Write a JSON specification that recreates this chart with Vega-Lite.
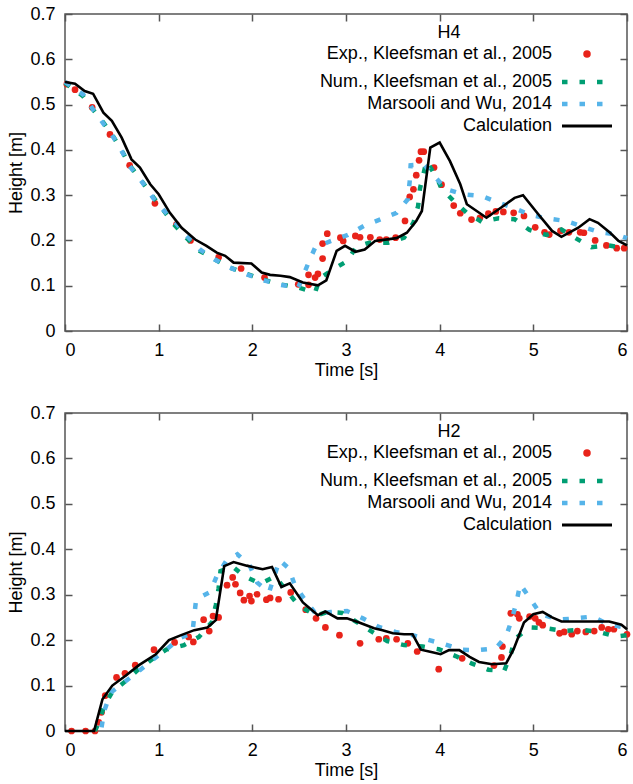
{
"$schema": "https://vega.github.io/schema/vega-lite/v6.json",
"padding": {"left": 7, "top": 4, "right": 5, "bottom": 0},
"config": {
  "font": "Liberation Sans",
  "view": {"stroke": "#555555", "strokeWidth": 1.5},
  "axis": {"labelFontSize": 18, "titleFontSize": 18, "titleFontWeight": "normal", "labelColor": "#000000", "titleColor": "#000000", "domain": false, "tickColor": "#555555", "tickWidth": 1.5, "tickSize": -7, "labelPadding": 17, "grid": false},
  "legend": {"labelFontSize": 18, "labelColor": "#000000"},
  "title": {"fontSize": 18, "fontWeight": "normal", "color": "#000000"}
},
"datasets": {
"h4": [
{"s":"calc","t":0,"h":0.550},{"s":"calc","t":0.107,"h":0.546},{"s":"calc","t":0.21,"h":0.530},{"s":"calc","t":0.30,"h":0.524},{"s":"calc","t":0.41,"h":0.482},{"s":"calc","t":0.50,"h":0.464},{"s":"calc","t":0.605,"h":0.427},{"s":"calc","t":0.71,"h":0.379},{"s":"calc","t":0.80,"h":0.361},{"s":"calc","t":0.91,"h":0.324},{"s":"calc","t":1.0,"h":0.302},{"s":"calc","t":1.12,"h":0.261},{"s":"calc","t":1.245,"h":0.228},{"s":"calc","t":1.39,"h":0.202},{"s":"calc","t":1.51,"h":0.188},{"s":"calc","t":1.62,"h":0.173},{"s":"calc","t":1.71,"h":0.166},{"s":"calc","t":1.80,"h":0.151},{"s":"calc","t":1.99,"h":0.149},{"s":"calc","t":2.10,"h":0.129},{"s":"calc","t":2.19,"h":0.124},{"s":"calc","t":2.30,"h":0.122},{"s":"calc","t":2.40,"h":0.119},{"s":"calc","t":2.54,"h":0.107},{"s":"calc","t":2.70,"h":0.101},{"s":"calc","t":2.79,"h":0.112},{"s":"calc","t":2.90,"h":0.177},{"s":"calc","t":2.99,"h":0.188},{"s":"calc","t":3.10,"h":0.175},{"s":"calc","t":3.20,"h":0.180},{"s":"calc","t":3.31,"h":0.199},{"s":"calc","t":3.54,"h":0.205},{"s":"calc","t":3.65,"h":0.217},{"s":"calc","t":3.75,"h":0.243},{"s":"calc","t":3.81,"h":0.265},{"s":"calc","t":3.90,"h":0.405},{"s":"calc","t":4.00,"h":0.416},{"s":"calc","t":4.11,"h":0.375},{"s":"calc","t":4.22,"h":0.324},{"s":"calc","t":4.29,"h":0.280},{"s":"calc","t":4.50,"h":0.250},{"s":"calc","t":4.68,"h":0.276},{"s":"calc","t":4.80,"h":0.294},{"s":"calc","t":4.89,"h":0.300},{"s":"calc","t":5.04,"h":0.261},{"s":"calc","t":5.20,"h":0.221},{"s":"calc","t":5.30,"h":0.208},{"s":"calc","t":5.48,"h":0.228},{"s":"calc","t":5.60,"h":0.247},{"s":"calc","t":5.69,"h":0.239},{"s":"calc","t":5.82,"h":0.217},{"s":"calc","t":5.91,"h":0.199},{"s":"calc","t":6.0,"h":0.189},
{"s":"exp","t":0.02,"h":0.545},{"s":"exp","t":0.107,"h":0.533},{"s":"exp","t":0.29,"h":0.494},{"s":"exp","t":0.48,"h":0.434},{"s":"exp","t":0.69,"h":0.366},{"s":"exp","t":0.96,"h":0.282},{"s":"exp","t":1.19,"h":0.235},{"s":"exp","t":1.34,"h":0.200},{"s":"exp","t":1.64,"h":0.163},{"s":"exp","t":1.88,"h":0.138},{"s":"exp","t":2.13,"h":0.118},{"s":"exp","t":2.49,"h":0.103},{"s":"exp","t":2.60,"h":0.102},{"s":"exp","t":2.60,"h":0.124},{"s":"exp","t":2.67,"h":0.118},{"s":"exp","t":2.70,"h":0.126},{"s":"exp","t":2.75,"h":0.160},{"s":"exp","t":2.75,"h":0.193},{"s":"exp","t":2.80,"h":0.215},{"s":"exp","t":2.94,"h":0.206},{"s":"exp","t":2.97,"h":0.199},{"s":"exp","t":3.10,"h":0.210},{"s":"exp","t":3.15,"h":0.207},{"s":"exp","t":3.26,"h":0.207},{"s":"exp","t":3.36,"h":0.202},{"s":"exp","t":3.43,"h":0.202},{"s":"exp","t":3.53,"h":0.206},{"s":"exp","t":3.63,"h":0.243},{"s":"exp","t":3.68,"h":0.296},{"s":"exp","t":3.72,"h":0.313},{"s":"exp","t":3.75,"h":0.344},{"s":"exp","t":3.78,"h":0.377},{"s":"exp","t":3.80,"h":0.396},{"s":"exp","t":3.83,"h":0.396},{"s":"exp","t":3.94,"h":0.361},{"s":"exp","t":4.02,"h":0.323},{"s":"exp","t":4.15,"h":0.277},{"s":"exp","t":4.22,"h":0.260},{"s":"exp","t":4.34,"h":0.246},{"s":"exp","t":4.43,"h":0.250},{"s":"exp","t":4.52,"h":0.259},{"s":"exp","t":4.60,"h":0.264},{"s":"exp","t":4.68,"h":0.263},{"s":"exp","t":4.79,"h":0.261},{"s":"exp","t":4.90,"h":0.254},{"s":"exp","t":5.02,"h":0.229},{"s":"exp","t":5.12,"h":0.218},{"s":"exp","t":5.17,"h":0.213},{"s":"exp","t":5.29,"h":0.221},{"s":"exp","t":5.38,"h":0.218},{"s":"exp","t":5.50,"h":0.218},{"s":"exp","t":5.54,"h":0.217},{"s":"exp","t":5.66,"h":0.200},{"s":"exp","t":5.78,"h":0.189},{"s":"exp","t":5.89,"h":0.183},{"s":"exp","t":5.97,"h":0.183},
{"s":"num","t":0,"h":0.548},{"s":"num","t":0.19,"h":0.519},{"s":"num","t":0.30,"h":0.489},{"s":"num","t":0.41,"h":0.460},{"s":"num","t":0.52,"h":0.428},{"s":"num","t":0.62,"h":0.393},{"s":"num","t":0.69,"h":0.366},{"s":"num","t":0.83,"h":0.328},{"s":"num","t":0.94,"h":0.296},{"s":"num","t":1.06,"h":0.264},{"s":"num","t":1.17,"h":0.234},{"s":"num","t":1.30,"h":0.205},{"s":"num","t":1.43,"h":0.178},{"s":"num","t":1.60,"h":0.158},{"s":"num","t":1.76,"h":0.140},{"s":"num","t":1.94,"h":0.126},{"s":"num","t":2.12,"h":0.113},{"s":"num","t":2.30,"h":0.103},{"s":"num","t":2.49,"h":0.096},{"s":"num","t":2.67,"h":0.085},{"s":"num","t":2.72,"h":0.116},{"s":"num","t":2.86,"h":0.136},{"s":"num","t":3.01,"h":0.154},{"s":"num","t":3.11,"h":0.186},{"s":"num","t":3.25,"h":0.195},{"s":"num","t":3.45,"h":0.195},{"s":"num","t":3.62,"h":0.206},{"s":"num","t":3.72,"h":0.239},{"s":"num","t":3.77,"h":0.276},{"s":"num","t":3.79,"h":0.315},{"s":"num","t":3.86,"h":0.375},{"s":"num","t":3.97,"h":0.338},{"s":"num","t":4.02,"h":0.315},{"s":"num","t":4.15,"h":0.287},{"s":"num","t":4.29,"h":0.261},{"s":"num","t":4.45,"h":0.241},{"s":"num","t":4.63,"h":0.249},{"s":"num","t":4.80,"h":0.247},{"s":"num","t":4.96,"h":0.223},{"s":"num","t":5.14,"h":0.212},{"s":"num","t":5.30,"h":0.224},{"s":"num","t":5.46,"h":0.204},{"s":"num","t":5.62,"h":0.185},{"s":"num","t":5.80,"h":0.189},{"s":"num","t":5.98,"h":0.183},
{"s":"mw","t":0,"h":0.550},{"s":"mw","t":0.195,"h":0.522},{"s":"mw","t":0.30,"h":0.489},{"s":"mw","t":0.41,"h":0.458},{"s":"mw","t":0.52,"h":0.427},{"s":"mw","t":0.62,"h":0.392},{"s":"mw","t":0.69,"h":0.364},{"s":"mw","t":0.83,"h":0.327},{"s":"mw","t":0.94,"h":0.294},{"s":"mw","t":1.06,"h":0.265},{"s":"mw","t":1.19,"h":0.237},{"s":"mw","t":1.30,"h":0.210},{"s":"mw","t":1.44,"h":0.180},{"s":"mw","t":1.60,"h":0.158},{"s":"mw","t":1.76,"h":0.140},{"s":"mw","t":1.94,"h":0.125},{"s":"mw","t":2.12,"h":0.112},{"s":"mw","t":2.30,"h":0.102},{"s":"mw","t":2.49,"h":0.096},{"s":"mw","t":2.60,"h":0.151},{"s":"mw","t":2.67,"h":0.184},{"s":"mw","t":2.84,"h":0.199},{"s":"mw","t":3.02,"h":0.212},{"s":"mw","t":3.19,"h":0.232},{"s":"mw","t":3.36,"h":0.246},{"s":"mw","t":3.54,"h":0.261},{"s":"mw","t":3.66,"h":0.291},{"s":"mw","t":3.68,"h":0.330},{"s":"mw","t":3.69,"h":0.366},{"s":"mw","t":3.83,"h":0.368},{"s":"mw","t":3.99,"h":0.331},{"s":"mw","t":4.07,"h":0.313},{"s":"mw","t":4.25,"h":0.302},{"s":"mw","t":4.45,"h":0.298},{"s":"mw","t":4.63,"h":0.283},{"s":"mw","t":4.80,"h":0.271},{"s":"mw","t":4.97,"h":0.256},{"s":"mw","t":5.16,"h":0.248},{"s":"mw","t":5.35,"h":0.243},{"s":"mw","t":5.53,"h":0.230},{"s":"mw","t":5.71,"h":0.218},{"s":"mw","t":5.89,"h":0.213},{"s":"mw","t":6.0,"h":0.205}
],
"h2": [
{"s":"calc","t":0,"h":0},{"s":"calc","t":0.31,"h":0},{"s":"calc","t":0.40,"h":0.070},{"s":"calc","t":0.505,"h":0.100},{"s":"calc","t":0.65,"h":0.122},{"s":"calc","t":0.79,"h":0.145},{"s":"calc","t":0.97,"h":0.169},{"s":"calc","t":1.11,"h":0.200},{"s":"calc","t":1.24,"h":0.211},{"s":"calc","t":1.38,"h":0.222},{"s":"calc","t":1.52,"h":0.228},{"s":"calc","t":1.61,"h":0.244},{"s":"calc","t":1.70,"h":0.363},{"s":"calc","t":1.80,"h":0.372},{"s":"calc","t":1.94,"h":0.364},{"s":"calc","t":2.11,"h":0.356},{"s":"calc","t":2.21,"h":0.361},{"s":"calc","t":2.31,"h":0.317},{"s":"calc","t":2.40,"h":0.325},{"s":"calc","t":2.54,"h":0.283},{"s":"calc","t":2.70,"h":0.255},{"s":"calc","t":2.78,"h":0.263},{"s":"calc","t":2.91,"h":0.248},{"s":"calc","t":3.01,"h":0.248},{"s":"calc","t":3.14,"h":0.239},{"s":"calc","t":3.30,"h":0.226},{"s":"calc","t":3.39,"h":0.222},{"s":"calc","t":3.50,"h":0.215},{"s":"calc","t":3.62,"h":0.213},{"s":"calc","t":3.71,"h":0.213},{"s":"calc","t":3.80,"h":0.179},{"s":"calc","t":3.91,"h":0.174},{"s":"calc","t":4.01,"h":0.169},{"s":"calc","t":4.10,"h":0.178},{"s":"calc","t":4.21,"h":0.178},{"s":"calc","t":4.32,"h":0.163},{"s":"calc","t":4.42,"h":0.152},{"s":"calc","t":4.56,"h":0.147},{"s":"calc","t":4.71,"h":0.149},{"s":"calc","t":4.79,"h":0.180},{"s":"calc","t":4.90,"h":0.239},{"s":"calc","t":5.00,"h":0.257},{"s":"calc","t":5.10,"h":0.262},{"s":"calc","t":5.20,"h":0.250},{"s":"calc","t":5.30,"h":0.241},{"s":"calc","t":5.53,"h":0.241},{"s":"calc","t":5.81,"h":0.241},{"s":"calc","t":5.94,"h":0.234},{"s":"calc","t":6.0,"h":0.224},
{"s":"exp","t":0.07,"h":0},{"s":"exp","t":0.22,"h":0},{"s":"exp","t":0.32,"h":0},{"s":"exp","t":0.36,"h":0.019},{"s":"exp","t":0.39,"h":0.041},{"s":"exp","t":0.43,"h":0.078},{"s":"exp","t":0.55,"h":0.118},{"s":"exp","t":0.64,"h":0.127},{"s":"exp","t":0.75,"h":0.145},{"s":"exp","t":0.95,"h":0.179},{"s":"exp","t":1.17,"h":0.195},{"s":"exp","t":1.32,"h":0.207},{"s":"exp","t":1.37,"h":0.196},{"s":"exp","t":1.48,"h":0.245},{"s":"exp","t":1.54,"h":0.220},{"s":"exp","t":1.58,"h":0.253},{"s":"exp","t":1.64,"h":0.250},{"s":"exp","t":1.73,"h":0.321},{"s":"exp","t":1.79,"h":0.338},{"s":"exp","t":1.82,"h":0.323},{"s":"exp","t":1.87,"h":0.304},{"s":"exp","t":1.91,"h":0.288},{"s":"exp","t":1.97,"h":0.297},{"s":"exp","t":1.99,"h":0.286},{"s":"exp","t":2.05,"h":0.301},{"s":"exp","t":2.15,"h":0.289},{"s":"exp","t":2.19,"h":0.293},{"s":"exp","t":2.28,"h":0.290},{"s":"exp","t":2.41,"h":0.305},{"s":"exp","t":2.57,"h":0.267},{"s":"exp","t":2.68,"h":0.248},{"s":"exp","t":2.78,"h":0.228},{"s":"exp","t":2.93,"h":0.211},{"s":"exp","t":3.15,"h":0.193},{"s":"exp","t":3.35,"h":0.202},{"s":"exp","t":3.43,"h":0.204},{"s":"exp","t":3.54,"h":0.202},{"s":"exp","t":3.66,"h":0.193},{"s":"exp","t":3.76,"h":0.175},{"s":"exp","t":3.99,"h":0.136},{"s":"exp","t":4.24,"h":0.160},{"s":"exp","t":4.58,"h":0.144},{"s":"exp","t":4.66,"h":0.162},{"s":"exp","t":4.67,"h":0.186},{"s":"exp","t":4.76,"h":0.259},{"s":"exp","t":4.83,"h":0.257},{"s":"exp","t":4.85,"h":0.248},{"s":"exp","t":4.96,"h":0.252},{"s":"exp","t":5.02,"h":0.248},{"s":"exp","t":5.06,"h":0.239},{"s":"exp","t":5.10,"h":0.233},{"s":"exp","t":5.28,"h":0.215},{"s":"exp","t":5.33,"h":0.218},{"s":"exp","t":5.41,"h":0.213},{"s":"exp","t":5.47,"h":0.220},{"s":"exp","t":5.56,"h":0.218},{"s":"exp","t":5.65,"h":0.220},{"s":"exp","t":5.73,"h":0.228},{"s":"exp","t":5.80,"h":0.224},{"s":"exp","t":5.86,"h":0.224},{"s":"exp","t":6.0,"h":0.213},
{"s":"num","t":0.32,"h":0},{"s":"num","t":0.36,"h":0.019},{"s":"num","t":0.42,"h":0.056},{"s":"num","t":0.505,"h":0.086},{"s":"num","t":0.63,"h":0.107},{"s":"num","t":0.77,"h":0.133},{"s":"num","t":0.93,"h":0.158},{"s":"num","t":1.08,"h":0.179},{"s":"num","t":1.27,"h":0.189},{"s":"num","t":1.43,"h":0.207},{"s":"num","t":1.57,"h":0.240},{"s":"num","t":1.61,"h":0.277},{"s":"num","t":1.64,"h":0.314},{"s":"num","t":1.66,"h":0.352},{"s":"num","t":1.79,"h":0.362},{"s":"num","t":1.92,"h":0.340},{"s":"num","t":2.09,"h":0.324},{"s":"num","t":2.24,"h":0.340},{"s":"num","t":2.35,"h":0.313},{"s":"num","t":2.46,"h":0.285},{"s":"num","t":2.57,"h":0.267},{"s":"num","t":2.68,"h":0.254},{"s":"num","t":2.80,"h":0.262},{"s":"num","t":2.96,"h":0.260},{"s":"num","t":3.28,"h":0.218},{"s":"num","t":3.44,"h":0.198},{"s":"num","t":3.62,"h":0.189},{"s":"num","t":3.82,"h":0.186},{"s":"num","t":3.99,"h":0.180},{"s":"num","t":4.17,"h":0.165},{"s":"num","t":4.34,"h":0.149},{"s":"num","t":4.52,"h":0.135},{"s":"num","t":4.69,"h":0.133},{"s":"num","t":4.76,"h":0.169},{"s":"num","t":4.80,"h":0.202},{"s":"num","t":4.96,"h":0.228},{"s":"num","t":5.14,"h":0.226},{"s":"num","t":5.33,"h":0.220},{"s":"num","t":5.51,"h":0.223},{"s":"num","t":5.70,"h":0.218},{"s":"num","t":5.88,"h":0.208},{"s":"num","t":6.0,"h":0.211},
{"s":"mw","t":0.39,"h":0.008},{"s":"mw","t":0.42,"h":0.045},{"s":"mw","t":0.49,"h":0.085},{"s":"mw","t":0.63,"h":0.107},{"s":"mw","t":0.77,"h":0.129},{"s":"mw","t":0.925,"h":0.155},{"s":"mw","t":1.08,"h":0.179},{"s":"mw","t":1.24,"h":0.206},{"s":"mw","t":1.36,"h":0.215},{"s":"mw","t":1.38,"h":0.253},{"s":"mw","t":1.40,"h":0.290},{"s":"mw","t":1.55,"h":0.306},{"s":"mw","t":1.62,"h":0.341},{"s":"mw","t":1.72,"h":0.374},{"s":"mw","t":1.84,"h":0.389},{"s":"mw","t":1.97,"h":0.365},{"s":"mw","t":2.05,"h":0.327},{"s":"mw","t":2.18,"h":0.306},{"s":"mw","t":2.29,"h":0.376},{"s":"mw","t":2.39,"h":0.358},{"s":"mw","t":2.45,"h":0.323},{"s":"mw","t":2.55,"h":0.292},{"s":"mw","t":2.68,"h":0.257},{"s":"mw","t":2.84,"h":0.262},{"s":"mw","t":3.01,"h":0.264},{"s":"mw","t":3.18,"h":0.248},{"s":"mw","t":3.35,"h":0.229},{"s":"mw","t":3.53,"h":0.218},{"s":"mw","t":3.71,"h":0.211},{"s":"mw","t":3.87,"h":0.201},{"s":"mw","t":4.05,"h":0.191},{"s":"mw","t":4.24,"h":0.179},{"s":"mw","t":4.41,"h":0.178},{"s":"mw","t":4.60,"h":0.182},{"s":"mw","t":4.71,"h":0.209},{"s":"mw","t":4.77,"h":0.245},{"s":"mw","t":4.82,"h":0.284},{"s":"mw","t":4.86,"h":0.323},{"s":"mw","t":4.97,"h":0.290},{"s":"mw","t":5.08,"h":0.257},{"s":"mw","t":5.27,"h":0.245},{"s":"mw","t":5.45,"h":0.248},{"s":"mw","t":5.63,"h":0.252},{"s":"mw","t":5.80,"h":0.235},{"s":"mw","t":5.96,"h":0.228}
]
},
"spacing": 23,
"resolve": {"scale": {"color": "independent"}, "legend": {"color": "independent"}},
"vconcat": [
{
  "width": 562, "height": 317,
  "data": {"name": "h4"},
  "title": {"text": "H4", "anchor": "middle", "frame": "group", "baseline": "middle", "offset": -46, "dx": 103},
  "resolve": {"axis": {"x": "independent", "y": "independent"}},
  "layer": [
    {"transform": [{"filter": "datum.s == 'exp'"}],
     "mark": {"type": "point", "filled": true, "size": 45, "color": "#e8231a", "opacity": 1},
     "encoding": {
       "x": {"field": "t", "type": "quantitative", "scale": {"domain": [0, 6], "nice": false}, "axis": {"orient": "top", "labels": false, "title": null, "minExtent": 0, "maxExtent": 0, "values": [0,1,2,3,4,5,6]}},
       "y": {"field": "h", "type": "quantitative", "scale": {"domain": [0, 0.7], "nice": false}, "axis": {"orient": "right", "labels": false, "title": null, "minExtent": 0, "maxExtent": 0, "values": [0,0.1,0.2,0.3,0.4,0.5,0.6,0.7]}}
     }},
    {"transform": [{"filter": "datum.s == 'num' || datum.s == 'mw'"}],
     "mark": {"type": "line", "strokeWidth": 4.5, "strokeDash": [6, 12], "strokeCap": "butt"},
     "encoding": {
       "x": {"field": "t", "type": "quantitative", "axis": {"title": "Time [s]", "values": [0,1,2,3,4,5,6], "titlePadding": 2}},
       "y": {"field": "h", "type": "quantitative", "axis": {"title": "Height [m]", "values": [0,0.1,0.2,0.3,0.4,0.5,0.6,0.7], "labelExpr": "datum.value == 0 ? '0' : format(datum.value, '.1f')"}},
       "color": {"field": "s", "type": "nominal",
         "scale": {"domain": ["exp", "num", "mw", "calc"], "range": ["#e8231a", "#009e73", "#56b4e9", "#000000"]},
         "legend": {"orient": "none", "legendX": 494, "legendY": 31, "title": null, "columns": 1,
           "labelExpr": "datum.value == 'exp' ? 'Exp., Kleefsman et al., 2005' : datum.value == 'num' ? 'Num., Kleefsman et al., 2005' : datum.value == 'mw' ? 'Marsooli and Wu, 2014' : 'Calculation'",
           "labelAlign": "right", "labelOffset": -44, "symbolOffset": 19, "labelLimit": 400, "symbolType": "stroke", "symbolSize": 2500, "symbolStrokeWidth": 4.5, "rowPadding": 4, "padding": 0,
           "encode": {"symbols": {"update": {
             "shape": {"value": "stroke"},
             "size": {"value": 2500},
             "fill": {"value": "transparent"},
             "opacity": {"value": 1},
             "strokeOpacity": {"value": 1},
             "stroke": {"signal": "datum.value == 'exp' ? '#e8231a' : datum.value == 'num' ? '#009e73' : datum.value == 'mw' ? '#56b4e9' : '#000000'"},
             "strokeDash": {"signal": "datum.value == 'exp' ? [0.001, 200] : datum.value == 'calc' ? [1, 0] : [5.5, 12]"},
             "strokeDashOffset": {"signal": "datum.value == 'exp' ? -25 : 0"},
             "strokeCap": {"signal": "datum.value == 'exp' ? 'round' : 'butt'"},
             "strokeWidth": {"signal": "datum.value == 'exp' ? 7.5 : datum.value == 'calc' ? 3 : 4.5"}
           }}}}}
     }},
    {"transform": [{"filter": "datum.s == 'calc'"}],
     "mark": {"type": "line", "strokeWidth": 2.6, "color": "#000000"},
     "encoding": {
       "x": {"field": "t", "type": "quantitative", "axis": null},
       "y": {"field": "h", "type": "quantitative", "axis": null}
     }}
  ]
},
{
  "width": 562, "height": 318,
  "data": {"name": "h2"},
  "title": {"text": "H2", "anchor": "middle", "frame": "group", "baseline": "middle", "offset": -46, "dx": 103},
  "resolve": {"axis": {"x": "independent", "y": "independent"}},
  "layer": [
    {"transform": [{"filter": "datum.s == 'exp'"}],
     "mark": {"type": "point", "filled": true, "size": 45, "color": "#e8231a", "opacity": 1},
     "encoding": {
       "x": {"field": "t", "type": "quantitative", "scale": {"domain": [0, 6], "nice": false}, "axis": {"orient": "top", "labels": false, "title": null, "minExtent": 0, "maxExtent": 0, "values": [0,1,2,3,4,5,6]}},
       "y": {"field": "h", "type": "quantitative", "scale": {"domain": [0, 0.7], "nice": false}, "axis": {"orient": "right", "labels": false, "title": null, "minExtent": 0, "maxExtent": 0, "values": [0,0.1,0.2,0.3,0.4,0.5,0.6,0.7]}}
     }},
    {"transform": [{"filter": "datum.s == 'num' || datum.s == 'mw'"}],
     "mark": {"type": "line", "strokeWidth": 4.5, "strokeDash": [6, 12], "strokeCap": "butt"},
     "encoding": {
       "x": {"field": "t", "type": "quantitative", "axis": {"title": "Time [s]", "values": [0,1,2,3,4,5,6], "titlePadding": 2}},
       "y": {"field": "h", "type": "quantitative", "axis": {"title": "Height [m]", "values": [0,0.1,0.2,0.3,0.4,0.5,0.6,0.7], "labelExpr": "datum.value == 0 ? '0' : format(datum.value, '.1f')"}},
       "color": {"field": "s", "type": "nominal",
         "scale": {"domain": ["exp", "num", "mw", "calc"], "range": ["#e8231a", "#009e73", "#56b4e9", "#000000"]},
         "legend": {"orient": "none", "legendX": 494, "legendY": 31, "title": null, "columns": 1,
           "labelExpr": "datum.value == 'exp' ? 'Exp., Kleefsman et al., 2005' : datum.value == 'num' ? 'Num., Kleefsman et al., 2005' : datum.value == 'mw' ? 'Marsooli and Wu, 2014' : 'Calculation'",
           "labelAlign": "right", "labelOffset": -44, "symbolOffset": 19, "labelLimit": 400, "symbolType": "stroke", "symbolSize": 2500, "symbolStrokeWidth": 4.5, "rowPadding": 4, "padding": 0,
           "encode": {"symbols": {"update": {
             "shape": {"value": "stroke"},
             "size": {"value": 2500},
             "fill": {"value": "transparent"},
             "opacity": {"value": 1},
             "strokeOpacity": {"value": 1},
             "stroke": {"signal": "datum.value == 'exp' ? '#e8231a' : datum.value == 'num' ? '#009e73' : datum.value == 'mw' ? '#56b4e9' : '#000000'"},
             "strokeDash": {"signal": "datum.value == 'exp' ? [0.001, 200] : datum.value == 'calc' ? [1, 0] : [5.5, 12]"},
             "strokeDashOffset": {"signal": "datum.value == 'exp' ? -25 : 0"},
             "strokeCap": {"signal": "datum.value == 'exp' ? 'round' : 'butt'"},
             "strokeWidth": {"signal": "datum.value == 'exp' ? 7.5 : datum.value == 'calc' ? 3 : 4.5"}
           }}}}}
     }},
    {"transform": [{"filter": "datum.s == 'calc'"}],
     "mark": {"type": "line", "strokeWidth": 2.6, "color": "#000000"},
     "encoding": {
       "x": {"field": "t", "type": "quantitative", "axis": null},
       "y": {"field": "h", "type": "quantitative", "axis": null}
     }}
  ]
}
]
}
